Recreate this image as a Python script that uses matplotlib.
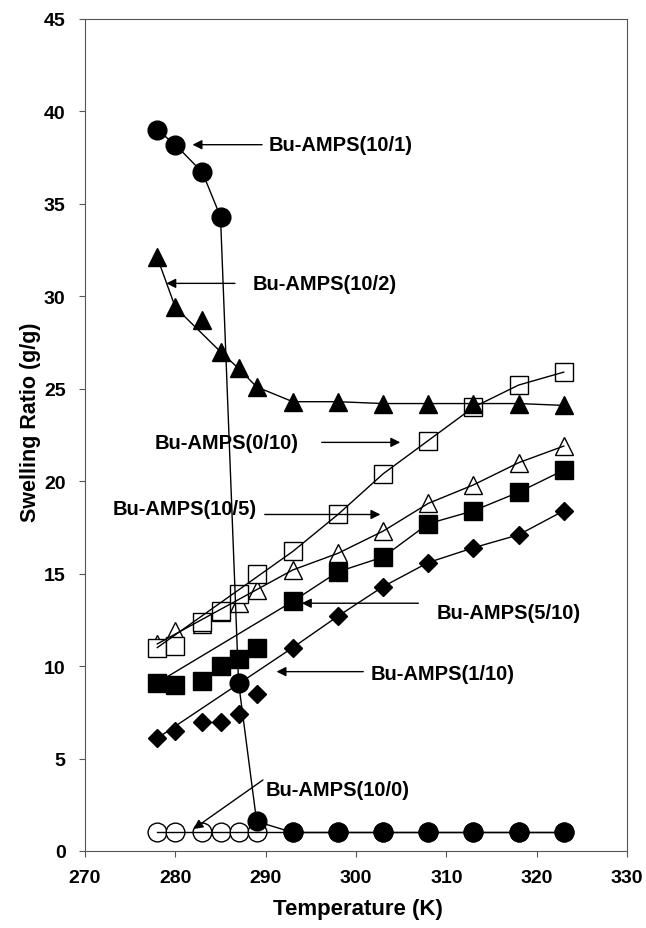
import numpy as np
import matplotlib
matplotlib.use("Agg")
import matplotlib.pyplot as plt

# Temperaturas (K) comunes a todas las series
temps = [278, 280, 283, 285, 287, 289, 293, 298, 303, 308, 313, 318, 323]

# Relacion de hinchamiento (g/g) por serie
r_10_1 = [39.0, 38.2, 36.7, 34.3, 9.1, 1.6, 1.0, 1.0, 1.0, 1.0, 1.0, 1.0, 1.0]
r_10_2 = [32.1, 29.4, 28.7, 27.0, 26.1, 25.1, 24.3, 24.3, 24.2, 24.2, 24.2, 24.2, 24.1]
r_0_10 = [11.0, 11.1, 12.4, 13.0, 13.9, 15.0, 16.2, 18.2, 20.4, 22.2, 24.0, 25.2, 25.9]
r_10_5 = [11.2, 11.9, 12.3, 12.9, 13.4, 14.1, 15.2, 16.1, 17.3, 18.8, 19.8, 21.0, 21.9]
r_5_10 = [9.1, 9.0, 9.2, 10.0, 10.4, 11.0, 13.5, 15.1, 15.9, 17.7, 18.4, 19.4, 20.6]
r_1_10 = [6.1, 6.5, 7.0, 7.0, 7.4, 8.5, 11.0, 12.7, 14.3, 15.6, 16.4, 17.1, 18.4]
r_10_0 = [1.0] * 13

# Temperaturas que unen las lineas (algunos puntos intermedios van sin linea)
t_linea = [278, 293, 298, 303, 308, 313, 318, 323]
t_linea_10_2 = [278, 280, 285, 287, 289, 293, 298, 303, 308, 313, 318, 323]

# Etiquetas con flechas: (texto, posicion texto, inicio flecha, punta flecha)
etiquetas = ["Bu-AMPS(10/1)", "Bu-AMPS(10/2)", "Bu-AMPS(0/10)", "Bu-AMPS(10/5)",
             "Bu-AMPS(5/10)", "Bu-AMPS(1/10)", "Bu-AMPS(10/0)"]
pos_texto = [(290.3, 38.2), (288.5, 30.7), (277.7, 22.1), (273.1, 18.5),
             (308.9, 12.9), (301.6, 9.6), (290.0, 3.35)]
flecha_ini = [(289.6, 38.2), (286.6, 30.7), (296.2, 22.1), (289.9, 18.2),
              (306.9, 13.4), (300.8, 9.7), (289.7, 3.84)]
flecha_fin = [(281.9, 38.2), (279.0, 30.7), (304.9, 22.1), (302.7, 18.2),
              (294.0, 13.4), (291.2, 9.7), (282.0, 1.19)]

plt.rcParams['font.family'] = ['Liberation Sans', 'DejaVu Sans']
plt.rcParams['font.weight'] = 'bold'


def sub(serie, t_sel):
    """ Retorna los valores de la serie en las temperaturas elegidas """
    d = dict(zip(temps, serie))
    return [d[t] for t in t_sel]


fig = plt.figure(figsize=(6.46, 9.29), dpi=100)
ax = fig.add_axes([0.1316, 0.0829, 0.839, 0.8956])

ms = 13.5

# marcadores (primero triangulos abiertos, luego cuadrados abiertos)
ax.plot(temps, r_10_5, ls='none', marker='^', ms=ms, mfc='white', mec='black', mew=1.0)
ax.plot(temps, r_0_10, ls='none', marker='s', ms=ms, mfc='white', mec='black', mew=1.0)
ax.plot(temps, r_5_10, ls='none', marker='s', ms=ms, mfc='black', mec='black')
ax.plot(temps, r_1_10, ls='none', marker='D', ms=9.5, mfc='black', mec='black')
ax.plot(temps, r_10_2, ls='none', marker='^', ms=ms, mfc='black', mec='black')
ax.plot(temps, r_10_0, ls='none', marker='o', ms=ms, mfc='white', mec='black', mew=1.0)
ax.plot(temps, r_10_1, ls='none', marker='o', ms=ms, mfc='black', mec='black')

# lineas encima de los marcadores
for serie in [r_0_10, r_10_5, r_5_10, r_1_10]:
    ax.plot(t_linea, sub(serie, t_linea), color='black', lw=1.0)
ax.plot(t_linea_10_2, sub(r_10_2, t_linea_10_2), color='black', lw=1.0)
ax.plot(temps, r_10_0, color='black', lw=1.0)
ax.plot(temps, r_10_1, color='black', lw=1.0)

for txt, pt, ini, fin in zip(etiquetas, pos_texto, flecha_ini, flecha_fin):
    ax.text(pt[0], pt[1], txt, fontsize=14.5, fontweight='bold',
            ha='left', va='center')
    ax.annotate('', xy=fin, xytext=ini,
                arrowprops=dict(arrowstyle='-|>', color='black', lw=1.0,
                                mutation_scale=14, shrinkA=0, shrinkB=0))

ax.set_xlim(270, 330)
ax.set_ylim(0, 45)
ax.set_xticks(range(270, 331, 10))
ax.set_yticks(range(0, 46, 5))
ax.tick_params(direction='out', length=4, width=0.8, color='#555555',
               labelsize=14)
ax.tick_params(axis='y', pad=10)
ax.tick_params(axis='x', pad=9)
for lbl in ax.get_xticklabels() + ax.get_yticklabels():
    lbl.set_fontweight('bold')
for sp in ax.spines.values():
    sp.set_color('#555555')
    sp.set_linewidth(0.8)

ax.set_xlabel('Temperature (K)', fontsize=16, fontweight='bold')
ax.set_ylabel('Swelling Ratio (g/g)', fontsize=15.5, fontweight='bold')
ax.xaxis.set_label_coords(0.504, -0.056)
ax.yaxis.set_label_coords(-0.082, 0.516)

fig.savefig('out.png', dpi=100)
